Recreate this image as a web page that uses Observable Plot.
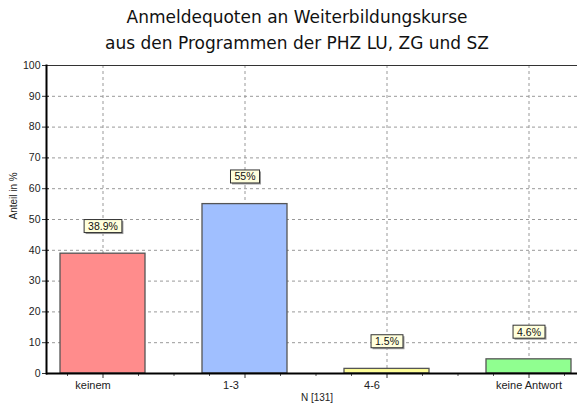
<!DOCTYPE html>
<html><head><meta charset="utf-8">
<script src="https://cdn.jsdelivr.net/npm/d3@7"></script>
<script src="https://cdn.jsdelivr.net/npm/@observablehq/plot@0.6"></script>
<style>
body{margin:0;background:#fff;}
#title{width:577px;height:60px;box-sizing:border-box;padding-left:17px;padding-top:4px;text-align:center;font-family:"DejaVu Sans";font-size:17px;color:#111;line-height:26px;}
#chart{width:577px;height:347px;}
</style></head><body>
<div id="title"><div>Anmeldequoten an Weiterbildungskurse</div><div>aus den Programmen der PHZ LU, ZG und SZ</div></div>
<div id="chart"></div>
<script>
const categories = ["keinem", "1-3", "4-6", "keine Antwort"];
const values = [38.9, 55, 1.5, 4.6];
const valueLabels = ["38.9%", "55%", "1.5%", "4.6%"];
const barColors = ["#ff8c8c", "#a0bfff", "#ffff99", "#90ff90"];
const yTicks = [0, 10, 20, 30, 40, 50, 60, 70, 80, 90, 100];
const gridTicks = [10, 20, 30, 40, 50, 60, 70, 80, 90];
const labelShift = [-10, -14, -15, 0];
const yLabel = "Anteil in %";
const xNote = "N [131]";

const data = categories.map((c, i) => ({cat: c, value: values[i], label: valueLabels[i]}));
const step = 142;
const q = step / 4;

const svg = Plot.plot({
  width: 577,
  height: 347,
  marginLeft: 46,
  marginRight: 0,
  marginTop: 5,
  marginBottom: 34,
  style: {fontFamily: "Liberation Sans, Arial, sans-serif", fontSize: "11px", color: "#222", background: "#fff"},
  x: {domain: categories, range: [32, 600], paddingInner: 0.4, paddingOuter: 0.2, axis: null},
  y: {domain: [0, 100], axis: null},
  color: {domain: categories, range: barColors},
  marks: [
    Plot.gridY(gridTicks, {stroke: "#999", strokeOpacity: 1, strokeDasharray: "3,3"}),
    Plot.gridX(categories, {stroke: "#999", strokeOpacity: 1, strokeDasharray: "3,3"}),
    Plot.ruleY([100], {stroke: "#333", strokeWidth: 1}),
    Plot.barY(data, {x: "cat", y: "value", fill: "cat", stroke: "#555", strokeWidth: 1.3}),
    Plot.axisY({ticks: yTicks, tickSize: 0, tickPadding: 6, fontSize: 10.5, fill: "#222", label: null}),
    Plot.axisY({ticks: yTicks, tickSize: 7, dx: 3, fill: "none", stroke: "#333", label: null}),
    Plot.axisX({tickSize: 5, fill: "none", stroke: "#333", label: null}),
    Plot.axisX({tickSize: 3, dx: -q, fill: "none", stroke: "#555", label: null}),
    Plot.axisX({tickSize: 3, dx: q, fill: "none", stroke: "#555", label: null}),
    Plot.axisX({ticks: categories.slice(1), tickSize: 3, dx: -2 * q, fill: "none", stroke: "#555", label: null}),
    ...categories.map((c, i) => Plot.axisX({ticks: [c], tickSize: 0, tickPadding: 8, dx: labelShift[i], fontSize: 11, fill: "#222", label: null})),
    Plot.frame({anchor: "left", stroke: "#000", strokeWidth: 2}),
    Plot.ruleY([0], {stroke: "#000", strokeWidth: 2}),
    Plot.text([yLabel], {frameAnchor: "left", rotate: -90, dx: -33, fontSize: 10, fill: "#222"}),
    Plot.text([xNote], {frameAnchor: "bottom", dy: 27, dx: 5, fontSize: 10, fill: "#222"}),
    Plot.text(data, {x: "cat", y: "value", text: "label", dy: -27, fontSize: 10.5, fill: "#111"})
  ]
});
document.getElementById("chart").appendChild(svg);

// boxes behind value labels, sized from the rendered text
const ns = "http://www.w3.org/2000/svg";
Array.from(svg.querySelectorAll("text"))
  .filter(t => valueLabels.includes(t.textContent))
  .forEach(t => {
    const g = t.parentNode;
    const b = t.getBBox();
    const tr = t.getAttribute("transform");
    const px = 4, py = 0.5;
    [[1.5, "#999", "none"], [0, "#ffffdc", "#333"]].forEach(([o, f, s]) => {
      const el = document.createElementNS(ns, "rect");
      el.setAttribute("x", b.x - px + o);
      el.setAttribute("y", b.y - py + o);
      el.setAttribute("width", b.width + 2 * px);
      el.setAttribute("height", b.height + 2 * py);
      el.setAttribute("fill", f);
      el.setAttribute("stroke", s);
      if (tr) el.setAttribute("transform", tr);
      g.insertBefore(el, t);
    });
  });
</script>
</body></html>
